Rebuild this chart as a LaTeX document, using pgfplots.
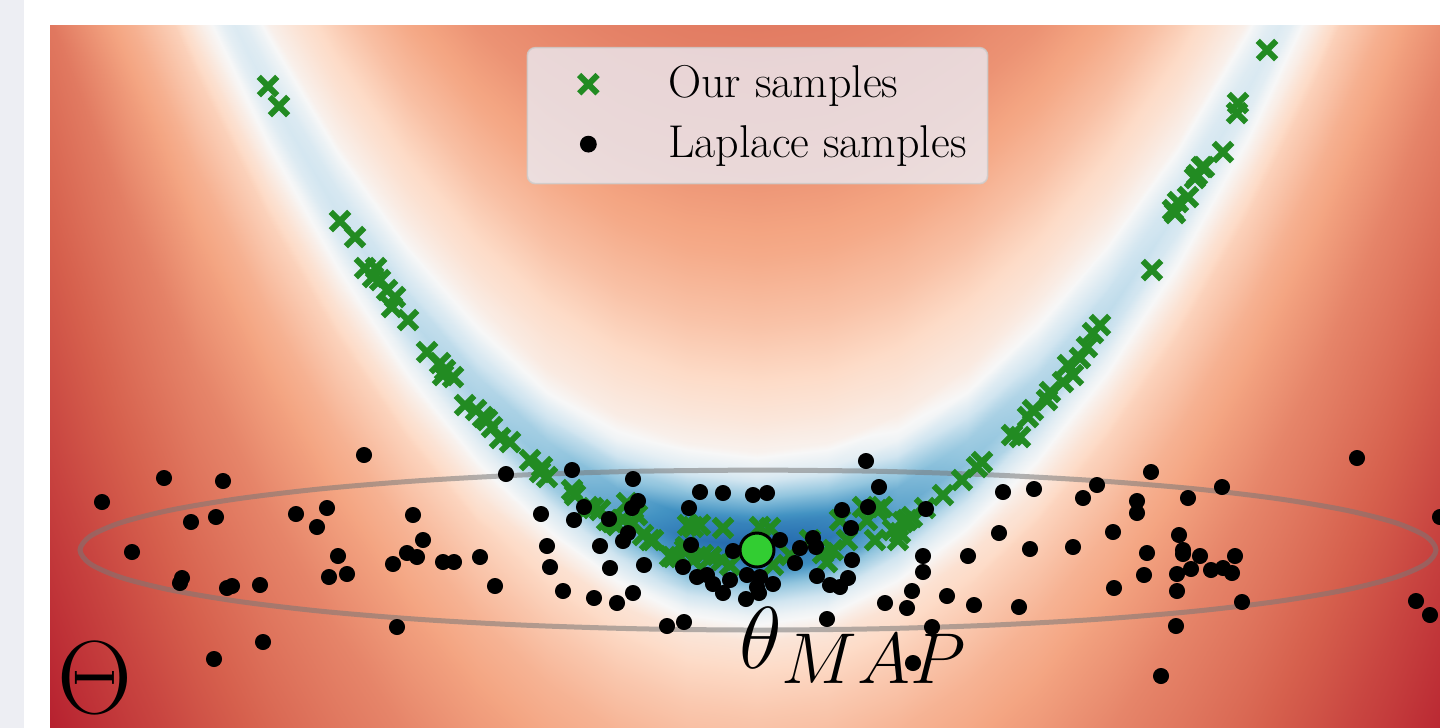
\RequirePackage{fix-cm}
\documentclass[border=0pt]{standalone}
\usepackage{pgfplots}
\pgfplotsset{compat=1.18}
\definecolor{fgreen}{RGB}{34,139,34}
\definecolor{lgreen}{RGB}{50,205,50}
\definecolor{legfill}{RGB}{234,234,242}
\definecolor{legdraw}{RGB}{204,204,204}
\definecolor{strip}{RGB}{237,238,243}
\definecolor{ellgray}{RGB}{120,120,120}
\begin{document}
\begin{tikzpicture}
\fill[white] (0,0) rectangle (720pt,364pt);
\fill[strip] (0,0) rectangle (12pt,364pt);
\begin{axis}[
  at={(25pt,0pt)}, anchor=south west,
  width=695pt, height=351.5pt, scale only axis,
  xmin=50, xmax=1440, ymin=25, ymax=728, zmin=-1, zmax=1,
  y dir=reverse, view={0}{90}, hide axis, clip=true,
  colormap={rdbur}{rgb255(0cm)=(5,48,97); rgb255(1cm)=(33,102,172); rgb255(2cm)=(67,147,195);
    rgb255(3cm)=(146,197,222); rgb255(4cm)=(209,229,240); rgb255(5cm)=(247,247,247);
    rgb255(6cm)=(253,219,199); rgb255(7cm)=(244,165,130); rgb255(8cm)=(214,96,77);
    rgb255(9cm)=(178,24,43); rgb255(10cm)=(103,0,31)},
  point meta min=0, point meta max=1,
  legend style={at={(0.509,0.969)}, anchor=north,
    fill=legfill, fill opacity=0.8, draw=legdraw, draw opacity=0.8, text opacity=1,
    line width=0.8pt, rounded corners=4pt,
    font=\fontsize{23}{27}\selectfont,
    inner xsep=10.5pt, inner ysep=8.5pt, row sep=9pt,
    nodes={inner sep=0pt, text height=16.5pt, text depth=4.5pt}},
  legend cell align=left,
  legend image code/.code={\path[draw=none, fill=none] (-20pt,-5pt) rectangle (40pt,5pt);
    \draw[#1, fill opacity=1, draw opacity=1] plot coordinates {(0pt,0.75pt)};},
]
\addplot3[surf, shader=interp, forget plot, point meta=explicit]
  table[x=x, y=y, z expr=0, meta=c] {
x y c
-13 -1180 0.778
-13 -1050 0.753
-13 -950 0.729
-13 -870 0.695
-13 -800 0.655
-13 -745 0.614
-13 -705 0.587
-13 -675 0.562
-13 -650 0.545
-13 -625 0.515
-13 -602 0.49
-13 -580 0.48
-13 -558 0.49
-13 -535 0.525
-13 -510 0.55
-13 -485 0.586
-13 -455 0.625
-13 -415 0.647
-13 -360 0.681
-13 -280 0.711
-13 -160 0.765
-13 20 0.795
-13 270 0.838
-13 570 0.891

57 -984 0.778
57 -854 0.753
57 -754 0.729
57 -674 0.695
57 -604 0.655
57 -549 0.614
57 -509 0.587
57 -479 0.562
57 -454 0.545
57 -429 0.515
57 -406 0.49
57 -384 0.48
57 -362 0.49
57 -339 0.525
57 -314 0.55
57 -289 0.586
57 -259 0.625
57 -219 0.647
57 -164 0.681
57 -84 0.711
57 36 0.765
57 216 0.795
57 466 0.838
57 766 0.891

127 -807 0.778
127 -677 0.753
127 -577 0.729
127 -497 0.695
127 -427 0.655
127 -372 0.612
127 -332 0.584
127 -302 0.56
127 -277 0.54
127 -252 0.505
127 -229 0.475
127 -207 0.46
127 -185 0.475
127 -162 0.515
127 -137 0.545
127 -112 0.583
127 -82 0.622
127 -42 0.645
127 13 0.68
127 93 0.715
127 213 0.755
127 393 0.788
127 643 0.837
127 943 0.891

197 -649 0.777
197 -519 0.752
197 -419 0.728
197 -339 0.694
197 -269 0.654
197 -214 0.611
197 -174 0.582
197 -144 0.557
197 -119 0.535
197 -94 0.495
197 -71 0.46
197 -49 0.44
197 -27 0.46
197 -4 0.505
197 21 0.538
197 46 0.579
197 76 0.619
197 116 0.644
197 171 0.679
197 251 0.709
197 371 0.747
197 551 0.785
197 801 0.837
197 1101 0.89

267 -509 0.777
267 -379 0.752
267 -279 0.728
267 -199 0.694
267 -129 0.653
267 -74 0.61
267 -34 0.58
267 -4 0.553
267 21 0.528
267 46 0.475
267 69 0.436
267 91 0.42
267 113 0.441
267 136 0.491
267 161 0.534
267 186 0.577
267 216 0.618
267 256 0.643
267 311 0.678
267 391 0.709
267 511 0.747
267 691 0.784
267 941 0.837
267 1241 0.89

337 -388 0.776
337 -258 0.752
337 -158 0.728
337 -78 0.693
337 -8 0.652
337 47 0.61
337 87 0.579
337 117 0.549
337 142 0.522
337 167 0.465
337 190 0.417
337 212 0.40
337 234 0.422
337 257 0.481
337 282 0.53
337 307 0.575
337 337 0.616
337 377 0.642
337 432 0.677
337 512 0.708
337 632 0.747
337 812 0.784
337 1062 0.837
337 1362 0.89

407 -286 0.776
407 -156 0.751
407 -56 0.727
407 24 0.693
407 94 0.651
407 149 0.608
407 189 0.576
407 219 0.544
407 244 0.509
407 269 0.446
407 292 0.389
407 314 0.37
407 336 0.394
407 359 0.467
407 384 0.524
407 409 0.57
407 439 0.614
407 479 0.641
407 534 0.676
407 614 0.708
407 734 0.746
407 914 0.784
407 1164 0.836
407 1464 0.89

477 -202 0.776
477 -72 0.751
477 28 0.727
477 108 0.692
477 178 0.65
477 233 0.607
477 273 0.574
477 303 0.539
477 328 0.498
477 353 0.422
477 376 0.36
477 398 0.339
477 420 0.367
477 443 0.449
477 468 0.518
477 493 0.566
477 523 0.612
477 563 0.64
477 618 0.675
477 698 0.707
477 818 0.746
477 998 0.784
477 1248 0.836
477 1548 0.89

547 -137 0.775
547 -7 0.751
547 93 0.726
547 173 0.692
547 243 0.649
547 298 0.605
547 338 0.571
547 368 0.546
547 393 0.498
547 418 0.397
547 441 0.32
547 463 0.295
547 485 0.328
547 508 0.43
547 533 0.514
547 558 0.58
547 588 0.609
547 628 0.639
547 683 0.674
547 763 0.707
547 883 0.746
547 1063 0.783
547 1313 0.836
547 1613 0.89

617 -90 0.775
617 40 0.75
617 140 0.726
617 220 0.691
617 290 0.647
617 345 0.603
617 385 0.568
617 415 0.538
617 440 0.478
617 465 0.354
617 488 0.261
617 510 0.231
617 532 0.271
617 555 0.391
617 580 0.497
617 605 0.574
617 635 0.606
617 675 0.637
617 730 0.673
617 810 0.706
617 930 0.745
617 1110 0.783
617 1360 0.836
617 1660 0.89

687 -62 0.775
687 68 0.75
687 168 0.725
687 248 0.69
687 318 0.645
687 373 0.601
687 413 0.561
687 443 0.523
687 468 0.437
687 493 0.289
687 516 0.177
687 538 0.135
687 560 0.19
687 583 0.335
687 608 0.475
687 633 0.565
687 663 0.602
687 703 0.635
687 758 0.671
687 838 0.705
687 958 0.745
687 1138 0.783
687 1388 0.836
687 1688 0.89

757 -53 0.775
757 77 0.75
757 177 0.725
757 257 0.69
757 327 0.645
757 382 0.60
757 422 0.56
757 452 0.52
757 477 0.43
757 502 0.278
757 525 0.159
757 547 0.10
757 569 0.174
757 592 0.325
757 617 0.472
757 642 0.564
757 672 0.602
757 712 0.635
757 767 0.671
757 847 0.705
757 967 0.745
757 1147 0.783
757 1397 0.836
757 1697 0.89

827 -62 0.775
827 68 0.75
827 168 0.725
827 248 0.69
827 318 0.645
827 373 0.601
827 413 0.561
827 443 0.523
827 468 0.437
827 493 0.289
827 516 0.177
827 538 0.135
827 560 0.19
827 583 0.335
827 608 0.475
827 633 0.565
827 663 0.602
827 703 0.635
827 758 0.671
827 838 0.705
827 958 0.745
827 1138 0.783
827 1388 0.836
827 1688 0.89

897 -90 0.775
897 40 0.75
897 140 0.726
897 220 0.691
897 290 0.647
897 345 0.603
897 385 0.568
897 415 0.538
897 440 0.478
897 465 0.354
897 488 0.261
897 510 0.231
897 532 0.271
897 555 0.391
897 580 0.497
897 605 0.574
897 635 0.606
897 675 0.637
897 730 0.673
897 810 0.706
897 930 0.745
897 1110 0.783
897 1360 0.836
897 1660 0.89

967 -137 0.775
967 -7 0.751
967 93 0.726
967 173 0.692
967 243 0.649
967 298 0.605
967 338 0.571
967 368 0.546
967 393 0.498
967 418 0.397
967 441 0.32
967 463 0.295
967 485 0.328
967 508 0.43
967 533 0.514
967 558 0.58
967 588 0.609
967 628 0.639
967 683 0.674
967 763 0.707
967 883 0.746
967 1063 0.783
967 1313 0.836
967 1613 0.89

1037 -202 0.776
1037 -72 0.751
1037 28 0.727
1037 108 0.692
1037 178 0.65
1037 233 0.607
1037 273 0.574
1037 303 0.539
1037 328 0.498
1037 353 0.422
1037 376 0.36
1037 398 0.339
1037 420 0.367
1037 443 0.449
1037 468 0.518
1037 493 0.566
1037 523 0.612
1037 563 0.64
1037 618 0.675
1037 698 0.707
1037 818 0.746
1037 998 0.784
1037 1248 0.836
1037 1548 0.89

1107 -286 0.776
1107 -156 0.751
1107 -56 0.727
1107 24 0.693
1107 94 0.651
1107 149 0.608
1107 189 0.576
1107 219 0.544
1107 244 0.509
1107 269 0.446
1107 292 0.389
1107 314 0.37
1107 336 0.394
1107 359 0.467
1107 384 0.524
1107 409 0.57
1107 439 0.614
1107 479 0.641
1107 534 0.676
1107 614 0.708
1107 734 0.746
1107 914 0.784
1107 1164 0.836
1107 1464 0.89

1177 -388 0.776
1177 -258 0.752
1177 -158 0.728
1177 -78 0.693
1177 -8 0.652
1177 47 0.61
1177 87 0.579
1177 117 0.549
1177 142 0.522
1177 167 0.465
1177 190 0.417
1177 212 0.40
1177 234 0.422
1177 257 0.481
1177 282 0.53
1177 307 0.575
1177 337 0.616
1177 377 0.642
1177 432 0.677
1177 512 0.708
1177 632 0.747
1177 812 0.784
1177 1062 0.837
1177 1362 0.89

1247 -509 0.777
1247 -379 0.752
1247 -279 0.728
1247 -199 0.694
1247 -129 0.653
1247 -74 0.61
1247 -34 0.58
1247 -4 0.553
1247 21 0.528
1247 46 0.475
1247 69 0.436
1247 91 0.42
1247 113 0.441
1247 136 0.491
1247 161 0.534
1247 186 0.577
1247 216 0.618
1247 256 0.643
1247 311 0.678
1247 391 0.709
1247 511 0.747
1247 691 0.784
1247 941 0.837
1247 1241 0.89

1317 -649 0.777
1317 -519 0.752
1317 -419 0.728
1317 -339 0.694
1317 -269 0.654
1317 -214 0.611
1317 -174 0.582
1317 -144 0.557
1317 -119 0.535
1317 -94 0.495
1317 -71 0.46
1317 -49 0.44
1317 -27 0.46
1317 -4 0.505
1317 21 0.538
1317 46 0.579
1317 76 0.619
1317 116 0.644
1317 171 0.679
1317 251 0.709
1317 371 0.747
1317 551 0.785
1317 801 0.837
1317 1101 0.89

1387 -807 0.778
1387 -677 0.753
1387 -577 0.729
1387 -497 0.695
1387 -427 0.655
1387 -372 0.612
1387 -332 0.584
1387 -302 0.56
1387 -277 0.54
1387 -252 0.505
1387 -229 0.475
1387 -207 0.46
1387 -185 0.475
1387 -162 0.515
1387 -137 0.545
1387 -112 0.583
1387 -82 0.622
1387 -42 0.645
1387 13 0.68
1387 93 0.71
1387 213 0.748
1387 393 0.785
1387 643 0.837
1387 943 0.891

1457 -984 0.778
1457 -854 0.753
1457 -754 0.729
1457 -674 0.695
1457 -604 0.655
1457 -549 0.614
1457 -509 0.587
1457 -479 0.562
1457 -454 0.545
1457 -429 0.515
1457 -406 0.49
1457 -384 0.48
1457 -362 0.49
1457 -339 0.525
1457 -314 0.55
1457 -289 0.586
1457 -259 0.625
1457 -219 0.647
1457 -164 0.681
1457 -84 0.711
1457 36 0.749
1457 216 0.786
1457 466 0.838
1457 766 0.891
};
\addplot3[smooth, no marks, forget plot, draw=ellgray, draw opacity=0.55, line width=2.5pt]
  table[x=x, y=y, z expr=0] {
x y
758 470
875.7 471.2
989.9 474.8
1097 480.7
1193.8 488.7
1277.3 498.6
1345.1 510
1395.1 522.6
1425.7 536.1
1436 550
1425.7 563.9
1395.1 577.4
1345.1 590
1277.3 601.4
1193.8 611.3
1097 619.3
989.9 625.2
875.7 628.8
758 630
640.3 628.8
526.1 625.2
419 619.3
322.2 611.3
238.7 601.4
170.9 590
120.9 577.4
90.3 563.9
80 550
90.3 536.1
120.9 522.6
170.9 510
238.7 498.6
322.2 488.7
419 480.7
526.1 474.8
640.3 471.2
758 470
};
\addplot3[only marks, mark=x, mark size=6.5pt, color=fgreen, mark options={line width=3pt, solid}]
  table[x=x, y=y, z expr=0] {
x y
268 86
279 106
340 221
355 237
365 268
376 268
373 277
380 280
387 290
395 297
392 307
408 320
427 352
440 363
445 370
453 377
443 375
465 405
476 410
483 417
487 420
492 427
500 438
510 442
530 460
540 472
542 467
547 477
572 490
575 495
588 507
593 508
600 510
607 520
612 522
617 525
623 520
627 503
637 515
633 523
643 535
650 540
653 540
670 556
673 557
680 557
685 550
686 547
688 525
693 527
700 525
693 560
703 555
711 557
722 560
730 565
723 528
760 527
770 528
773 565
790 555
810 540
823 553
827 562
833 550
840 520
847 540
863 507
877 510
867 520
875 540
882 507
893 530
898 540
900 533
903 522
907 520
912 517
925 508
943 495
962 480
977 467
982 462
1012 435
1020 437
1028 417
1033 410
1047 400
1050 392
1063 382
1068 365
1073 375
1080 358
1087 347
1093 333
1100 325
1152 270
1173 210
1175 213
1178 202
1188 197
1195 178
1197 175
1202 167
1204 167
1223 152
1237 113
1238 103
1267 50
};
\addlegendentry{Our samples}
\addplot3[only marks, mark=*, mark size=3.8pt, color=black]
  table[x=x, y=y, z expr=0] {
x y
102 502
164 478
223 481
191 522
216 517
132 552
182 578
180 583
227 588
232 586
260 585
364 455
296 514
327 508
317 527
413 515
423 540
338 556
329 577
347 574
393 564
407 553
417 557
443 562
454 562
480 557
495 586
397 627
263 642
214 659
506 474
572 470
633 479
638 501
632 508
584 507
541 514
574 520
609 519
628 533
623 541
547 546
600 546
550 567
610 568
644 565
691 545
683 567
563 591
594 598
617 603
633 593
667 626
684 622
700 492
723 493
753 495
767 493
689 508
733 551
780 540
800 548
813 538
816 547
795 563
697 577
707 575
713 584
730 580
723 593
747 575
760 577
757 587
773 584
759 593
746 599
842 510
851 528
852 560
848 578
817 576
830 585
840 587
827 619
866 461
879 487
868 507
926 509
885 603
907 608
912 591
923 556
923 572
947 596
913 663
932 627
968 556
974 605
1003 492
1034 489
999 533
1019 607
1030 549
1073 547
1083 498
1097 485
1113 532
1114 588
1137 501
1137 513
1151 472
1147 553
1144 575
1179 535
1183 550
1183 554
1200 556
1177 574
1191 569
1211 570
1223 568
1232 573
1235 556
1222 487
1188 498
1177 591
1242 602
1176 626
1161 676
1357 458
1416 601
1430 615
1440 517
};
\addlegendentry{Laplace samples}
\addplot3[only marks, mark=*, mark size=8.5pt, forget plot,
  mark options={fill=lgreen, draw=black, line width=1.5pt}] coordinates {(757,550,0)};
\node[anchor=base west, inner sep=0pt] at (axis cs:739,668,0)
  {\fontsize{44}{50}\selectfont$\theta$\raisebox{-7.5pt}{\fontsize{36}{42}\selectfont$MAP$}};
\node[anchor=base west, inner sep=0pt] at (axis cs:57,713,0)
  {\fontsize{52}{60}\selectfont$\Theta$};
\end{axis}
\pgfresetboundingbox
\useasboundingbox (0,0) rectangle (720pt,364pt);
\end{tikzpicture}
\end{document}
